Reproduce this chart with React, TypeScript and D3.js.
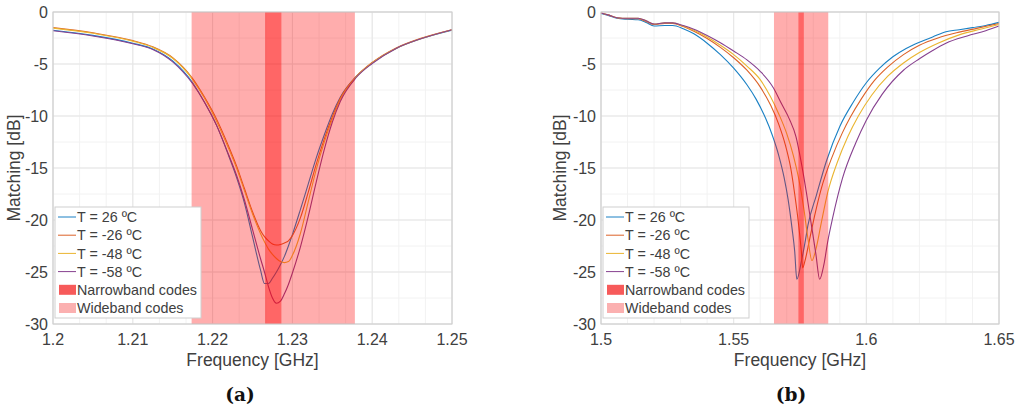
import React from 'react';
import * as d3 from 'd3';

// ---------- Data: panel (a) ----------
const freqA = [1.2, 1.205, 1.21, 1.2125, 1.215, 1.2175, 1.219, 1.2205, 1.222, 1.223, 1.224, 1.225, 1.226, 1.2265, 1.227, 1.2275, 1.228, 1.2285, 1.229, 1.2295, 1.23, 1.231, 1.232, 1.233, 1.234, 1.235, 1.236, 1.238, 1.24, 1.243, 1.246, 1.25];
const dbA_26 = [-1.75, -2.25, -3.0, -3.55, -4.7, -6.8, -8.7, -10.9, -13.8, -15.9, -18.4, -21.6, -24.8, -26.1, -26.1, -25.6, -25.0, -24.3, -23.5, -22.5, -21.4, -19.0, -16.5, -14.0, -11.8, -9.8, -8.2, -6.2, -4.9, -3.5, -2.6, -1.75];
const dbA_m26 = [-1.5, -2.0, -2.75, -3.35, -4.4, -6.4, -8.2, -10.3, -12.9, -14.8, -17.0, -19.2, -21.0, -21.6, -22.0, -22.3, -22.4, -22.35, -22.2, -22.0, -21.5, -19.8, -17.3, -14.6, -12.2, -10.1, -8.3, -6.2, -4.85, -3.45, -2.55, -1.7];
const dbA_m48 = [-1.55, -2.05, -2.8, -3.4, -4.45, -6.5, -8.3, -10.5, -13.1, -15.0, -17.2, -19.4, -21.3, -22.1, -22.8, -23.3, -23.7, -24.0, -24.1, -24.0, -23.4, -21.3, -18.2, -15.1, -12.5, -10.3, -8.4, -6.25, -4.9, -3.5, -2.6, -1.7];
const dbA_m58 = [-1.8, -2.3, -3.05, -3.6, -4.8, -6.9, -8.7, -10.9, -13.7, -15.7, -18.1, -20.9, -23.7, -25.0, -26.4, -27.5, -28.0, -27.8, -27.1, -26.2, -25.1, -22.6, -19.6, -16.3, -13.2, -10.6, -8.6, -6.3, -4.95, -3.5, -2.6, -1.7];
const xTicksA = [1.2, 1.21, 1.22, 1.23, 1.24, 1.25];
const xTickLabelsA = ['1.2', '1.21', '1.22', '1.23', '1.24', '1.25'];
const narrowA = [1.22658, 1.22862];
const wideA = [1.21737, 1.23783];

// ---------- Data: panel (b) ----------
const freqB_26 = [1.5, 1.503, 1.506, 1.51, 1.514, 1.517, 1.52, 1.524, 1.527, 1.531, 1.535, 1.54, 1.545, 1.55, 1.555, 1.5585, 1.562, 1.5645, 1.567, 1.569, 1.5705, 1.572, 1.573, 1.5738, 1.5755, 1.577, 1.578, 1.5812, 1.585, 1.59, 1.595, 1.6, 1.605, 1.61, 1.615, 1.62, 1.625, 1.63, 1.635, 1.64, 1.645, 1.65];
const dbB_26 = [-0.15, -0.35, -0.6, -0.7, -0.75, -1.0, -1.35, -1.3, -1.3, -1.6, -2.1, -3.0, -4.1, -5.4, -7.0, -8.4, -10.2, -11.8, -13.8, -15.9, -18.0, -20.8, -23.0, -25.7, -24.0, -22.0, -20.5, -17.6, -14.3, -11.0, -8.7, -6.8, -5.4, -4.3, -3.5, -2.9, -2.4, -1.9, -1.7, -1.5, -1.3, -1.0];
const freqB_m26 = [1.5, 1.503, 1.506, 1.51, 1.514, 1.517, 1.52, 1.524, 1.527, 1.531, 1.535, 1.54, 1.545, 1.55, 1.555, 1.56, 1.564, 1.567, 1.5695, 1.5715, 1.573, 1.5745, 1.5755, 1.576, 1.577, 1.5785, 1.5805, 1.583, 1.587, 1.591, 1.594, 1.598, 1.603, 1.608, 1.614, 1.62, 1.627, 1.634, 1.642, 1.65];
const dbB_m26 = [-0.1, -0.3, -0.55, -0.65, -0.65, -0.9, -1.2, -1.1, -1.1, -1.4, -1.85, -2.55, -3.4, -4.4, -5.6, -7.2, -9.0, -10.8, -12.8, -15.0, -17.5, -20.5, -23.0, -24.6, -23.8, -22.0, -19.6, -17.0, -14.0, -11.6, -10.1, -8.4, -6.6, -5.3, -4.1, -3.2, -2.5, -2.0, -1.55, -1.1];
const freqB_m48 = [1.5, 1.503, 1.506, 1.51, 1.514, 1.517, 1.52, 1.524, 1.527, 1.531, 1.535, 1.54, 1.545, 1.55, 1.555, 1.56, 1.564, 1.567, 1.57, 1.5725, 1.5745, 1.5765, 1.578, 1.5795, 1.581, 1.583, 1.5855, 1.589, 1.593, 1.597, 1.602, 1.608, 1.614, 1.62, 1.627, 1.635, 1.643, 1.65];
const dbB_m48 = [-0.1, -0.3, -0.55, -0.6, -0.6, -0.85, -1.15, -1.05, -1.05, -1.35, -1.75, -2.4, -3.2, -4.1, -5.2, -6.5, -8.2, -9.8, -11.7, -13.8, -16.0, -19.0, -21.8, -23.9, -22.8, -20.3, -17.3, -14.5, -12.0, -10.0, -8.0, -6.2, -4.9, -3.9, -3.0, -2.2, -1.65, -1.2];
const freqB_m58 = [1.5, 1.503, 1.506, 1.51, 1.514, 1.517, 1.52, 1.524, 1.527, 1.531, 1.535, 1.54, 1.545, 1.55, 1.555, 1.56, 1.565, 1.568, 1.571, 1.5735, 1.5755, 1.5775, 1.579, 1.581, 1.5824, 1.584, 1.5855, 1.5873, 1.591, 1.596, 1.6, 1.606, 1.614, 1.62, 1.625, 1.63, 1.638, 1.645, 1.65];
const dbB_m58 = [-0.1, -0.3, -0.55, -0.6, -0.6, -0.85, -1.15, -1.05, -1.05, -1.3, -1.65, -2.25, -2.95, -3.75, -4.6, -5.7, -7.3, -8.8, -10.3, -12.0, -14.5, -17.5, -20.0, -23.3, -25.7, -24.3, -22.0, -19.8, -16.0, -12.6, -10.4, -7.9, -5.6, -4.5, -3.7, -3.0, -2.3, -1.8, -1.35];
const xTicksB = [1.5, 1.55, 1.6, 1.65];
const xTickLabelsB = ['1.5', '1.55', '1.6', '1.65'];
const narrowB = [1.5744, 1.57644];
const wideB = [1.56519, 1.58565];

// ---------- Shared ----------
const yTicks = [0, -5, -10, -15, -20, -25, -30];
const yTickLabels = ['0', '-5', '-10', '-15', '-20', '-25', '-30'];
const seriesNames = ['T = 26 ºC', 'T = -26 ºC', 'T = -48 ºC', 'T = -58 ºC'];
const seriesColors = ['#1a80c4', '#dc6228', '#eab530', '#86408f'];
const bandNames = ['Narrowband codes', 'Wideband codes'];

const FONT = '"Liberation Sans", Arial, Helvetica, sans-serif';
const TXT = '#404040';

type Series = { f: number[]; db: number[] };

function Panel(props: {
  x0: number; x1: number; y0: number; y1: number;
  domain: [number, number]; xTicks: number[]; xLabels: string[];
  minorX: number[]; series: Series[]; narrow: number[]; wide: number[];
  ylabelX: number; caption: string; captionX: number;
}) {
  const { x0, x1, y0, y1, domain, xTicks, xLabels, minorX, series, narrow, wide, ylabelX, caption, captionX } = props;
  const x = d3.scaleLinear().domain(domain).range([x0, x1]);
  const y = d3.scaleLinear().domain([0, -30]).range([y0, y1]);
  const minorY = d3.range(0, -30.01, -2.5);
  const line = d3.line<[number, number]>().x(d => x(d[0])).y(d => y(d[1])).curve(d3.curveMonotoneX);
  const lx = x0 + 2;
  const ly = 207;
  const rowH = 18.2;
  return (
    <g>
      {minorX.map((v, i) => (
        <line key={'mx' + i} x1={x(v)} x2={x(v)} y1={y0} y2={y1} stroke="#f2f2f2" strokeWidth={1} />
      ))}
      {minorY.map((v, i) => (
        <line key={'my' + i} x1={x0} x2={x1} y1={y(v)} y2={y(v)} stroke="#f2f2f2" strokeWidth={1} />
      ))}
      {xTicks.map((v, i) => (
        <line key={'gx' + i} x1={x(v)} x2={x(v)} y1={y0} y2={y1} stroke="#e5e5e5" strokeWidth={1} />
      ))}
      {yTicks.map((v, i) => (
        <line key={'gy' + i} x1={x0} x2={x1} y1={y(v)} y2={y(v)} stroke="#e5e5e5" strokeWidth={1} />
      ))}
      {series.map((s, i) => (
        <path key={'s' + i} d={line(s.f.map((f, j) => [f, s.db[j]] as [number, number])) || ''}
          fill="none" stroke={seriesColors[i]} strokeWidth={1.1} />
      ))}
      <rect x={x(wide[0])} y={y0} width={x(wide[1]) - x(wide[0])} height={y1 - y0} fill="#ff0000" fillOpacity={0.32} />
      <rect x={x(narrow[0])} y={y0} width={x(narrow[1]) - x(narrow[0])} height={y1 - y0} fill="#ff1010" fillOpacity={0.45} />
      <rect x={x0} y={y0} width={x1 - x0} height={y1 - y0} fill="none" stroke="#cccccc" strokeWidth={1} />
      {xTicks.map((v, i) => (
        <text key={'tx' + i} x={x(v)} y={y1 + 21} textAnchor="middle" fontFamily={FONT} fontSize={16} fill={TXT}>{xLabels[i]}</text>
      ))}
      {yTicks.map((v, i) => (
        <text key={'ty' + i} x={x0 - 5} y={y(v)} dy="0.35em" textAnchor="end" fontFamily={FONT} fontSize={16} fill={TXT}>{yTickLabels[i]}</text>
      ))}
      <text x={(x0 + x1) / 2} y={366} textAnchor="middle" fontFamily={FONT} fontSize={17.5} fill={TXT}>Frequency [GHz]</text>
      <text transform={`translate(${ylabelX},${(y0 + y1) / 2}) rotate(-90)`} textAnchor="middle" fontFamily={FONT} fontSize={17.5} fill={TXT}>Matching [dB]</text>
      <text x={captionX} y={401} textAnchor="middle" fontFamily='"DejaVu Serif", "Liberation Serif", serif' fontWeight="bold" fontSize={18.5} fill="#111">{caption}</text>
      <rect x={lx} y={ly} width={146} height={111} fill="#ffffff" stroke="#cfcfcf" strokeWidth={1} />
      {seriesNames.map((n, i) => (
        <g key={'l' + i}>
          <line x1={lx + 3} x2={lx + 21} y1={ly + 10 + i * rowH} y2={ly + 10 + i * rowH} stroke={seriesColors[i]} strokeWidth={1} />
          <text x={lx + 22} y={ly + 10 + i * rowH} dy="0.36em" fontFamily={FONT} fontSize={14.3} fill={TXT}>{n}</text>
        </g>
      ))}
      {bandNames.map((n, i) => (
        <g key={'b' + i}>
          <rect x={lx + 4} y={ly + 10 + (i + 4) * rowH - 5} width={17} height={10}
            fill={i === 0 ? '#f75a5a' : '#fbb0b0'} />
          <text x={lx + 22} y={ly + 10 + (i + 4) * rowH} dy="0.36em" fontFamily={FONT} fontSize={14.3} fill={TXT}>{n}</text>
        </g>
      ))}
    </g>
  );
}

export default function App() {
  const seriesA: Series[] = [
    { f: freqA, db: dbA_26 },
    { f: freqA, db: dbA_m26 },
    { f: freqA, db: dbA_m48 },
    { f: freqA, db: dbA_m58 },
  ];
  const seriesB: Series[] = [
    { f: freqB_26, db: dbB_26 },
    { f: freqB_m26, db: dbB_m26 },
    { f: freqB_m48, db: dbB_m48 },
    { f: freqB_m58, db: dbB_m58 },
  ];
  const minorXA = d3.range(0, 16).map(i => 1.2 + (i * 0.01) / 3);
  const minorXB = d3.range(0, 16).map(i => 1.5 + i * 0.01);
  return (
    <svg width={1026} height={411} style={{ position: 'absolute', left: 0, top: 0, background: '#fff' }}>
      <rect x={0} y={0} width={1026} height={411} fill="#fff" />
      <Panel x0={53} x1={452} y0={12} y1={324} domain={[1.2, 1.25]} xTicks={xTicksA} xLabels={xTickLabelsA}
        minorX={minorXA} series={seriesA} narrow={narrowA} wide={wideA} ylabelX={20} caption="(a)" captionX={240} />
      <Panel x0={601} x1={999} y0={12} y1={324} domain={[1.5, 1.65]} xTicks={xTicksB} xLabels={xTickLabelsB}
        minorX={minorXB} series={seriesB} narrow={narrowB} wide={wideB} ylabelX={566} caption="(b)" captionX={791} />
    </svg>
  );
}
